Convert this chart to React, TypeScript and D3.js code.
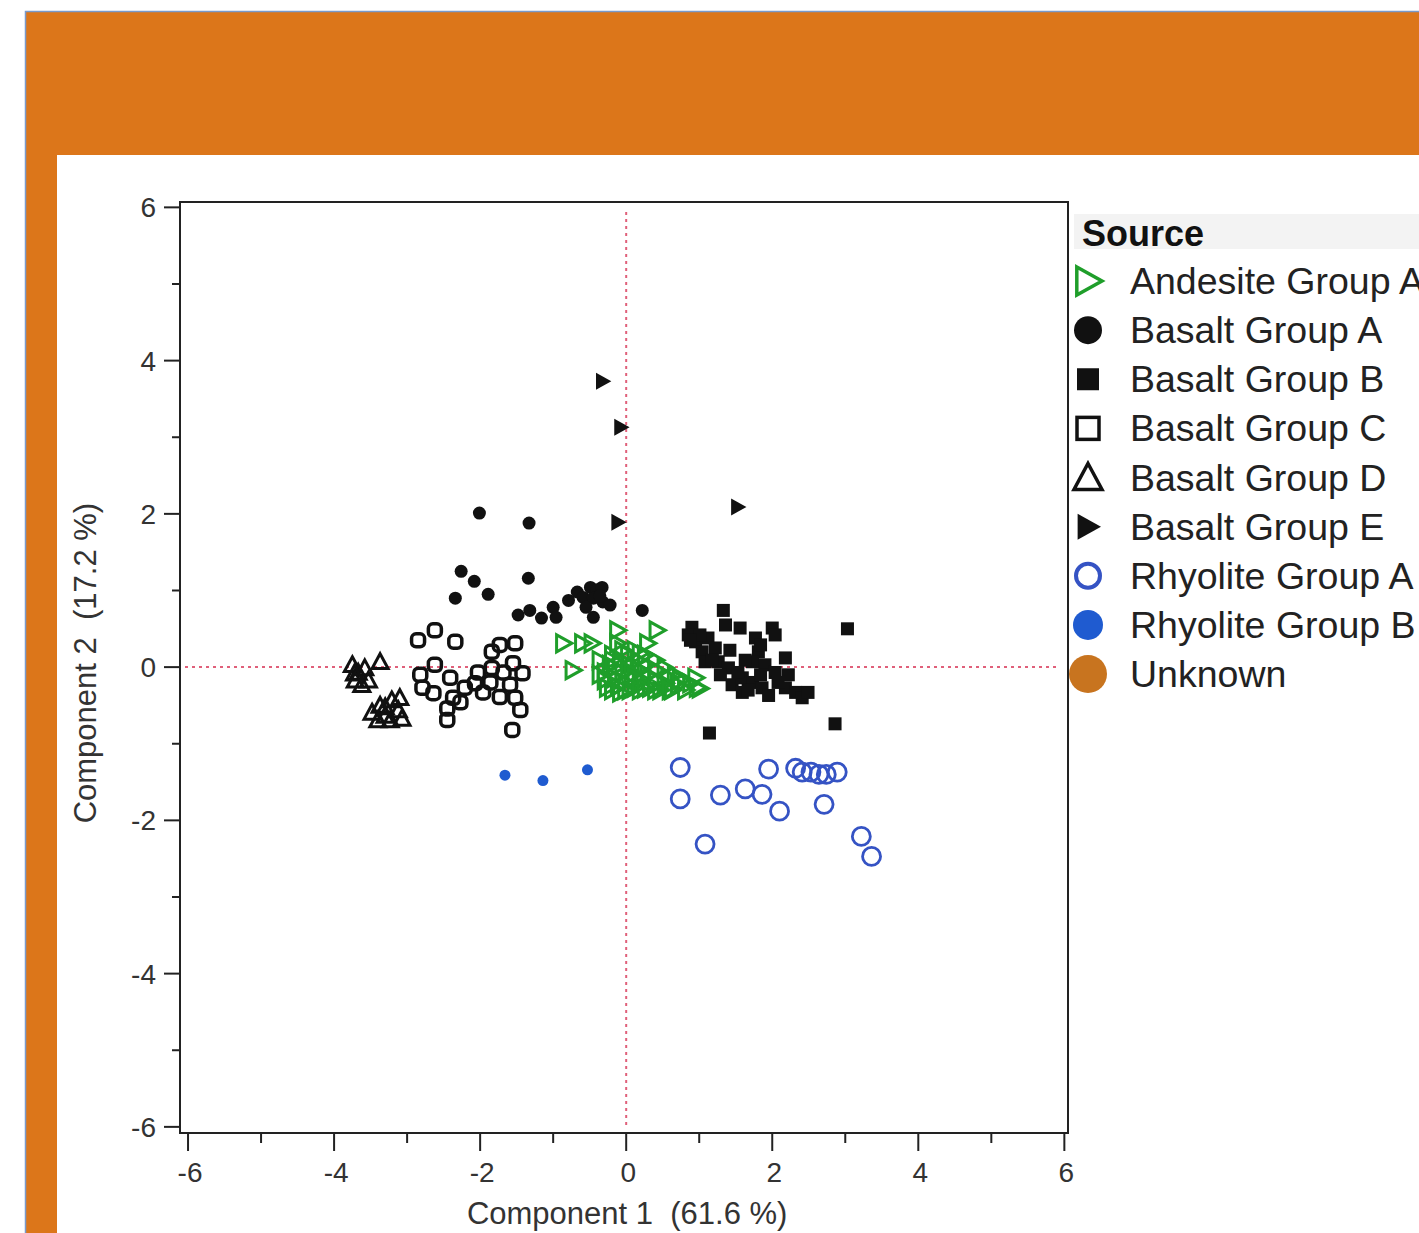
import React, { useRef, useEffect } from 'react';
import * as d3 from 'd3';

type Pt = [number, number];

// PCA scores: [component 1, component 2]
const andesiteA: Pt[] = [
  [-0.86, 0.31], [-0.6, 0.31], [-0.47, 0.31], [-0.73, -0.04], [-0.12, 0.48], [-0.12, 0.31],
  [0.42, 0.48], [0.29, 0.31], [0.19, 0.18], [-0.36, 0.09], [-0.29, -0.07], [-0.22, 0.03],
  [-0.15, -0.14], [-0.08, 0.09], [-0.05, -0.07], [-0.01, -0.2], [0.05, 0.03], [0.08, -0.1],
  [0.12, -0.27], [0.19, -0.04], [0.22, -0.17], [0.3, -0.1], [0.33, -0.27], [0.4, -0.17],
  [0.47, -0.3], [0.53, -0.21], [0.63, -0.3], [0.71, -0.23], [0.81, -0.3], [0.88, -0.21],
  [0.97, -0.27], [-0.19, 0.16], [0.03, 0.16], [-0.11, -0.25], [-0.29, -0.17], [0.16, 0.09],
  [0.42, -0.04], [0.58, -0.13], [0.74, -0.17], [-0.15, -0.01], [0.03, -0.04], [0.26, 0.03],
  [0.12, -0.14], [-0.01, -0.3], [-0.36, -0.1], [-0.26, -0.27], [-0.19, -0.3], [-0.08, -0.33],
  [0.05, -0.3], [0.19, -0.3], [-0.19, 0.09], [-0.05, 0.22], [0.12, 0.22], [0.26, 0.16],
  [0.4, 0.09], [0.53, -0.01], [0.67, -0.1], [0.95, -0.14], [1.01, -0.28], [0.26, -0.28],
  [0.4, -0.3], [0.6, -0.3],
];

const basaltA: Pt[] = [
  [-2.01, 2.01], [-1.33, 1.88], [-2.26, 1.25], [-2.08, 1.12], [-1.89, 0.95], [-2.34, 0.9],
  [-1.34, 1.16], [-1.48, 0.68], [-1.32, 0.74], [-1.16, 0.64], [-1.0, 0.78], [-0.96, 0.65],
  [-0.79, 0.87], [-0.67, 0.98], [-0.59, 0.91], [-0.49, 1.04], [-0.4, 1.01], [-0.33, 1.04],
  [-0.45, 0.9], [-0.32, 0.85], [-0.22, 0.81], [-0.45, 0.65], [0.22, 0.74], [-0.55, 0.78],
  [-0.36, 0.93],
];

const basaltB: Pt[] = [
  [1.33, 0.74], [1.36, 0.55], [1.56, 0.51], [0.9, 0.52], [1.12, 0.38], [0.95, 0.33],
  [1.04, 0.2], [1.22, 0.25], [1.08, 0.07], [1.26, 0.07], [1.77, 0.38], [2.0, 0.51],
  [2.04, 0.42], [1.81, 0.2], [1.73, 0.07], [1.4, -0.01], [1.45, -0.23], [1.59, -0.14],
  [1.73, -0.2], [1.9, 0.03], [2.04, -0.07], [2.18, 0.12], [2.22, -0.1], [2.18, -0.27],
  [1.86, -0.27], [1.95, -0.37], [2.32, -0.33], [2.41, -0.4], [2.49, -0.33], [1.59, -0.33],
  [3.03, 0.5], [2.86, -0.74], [1.14, -0.86], [0.85, 0.42], [1.01, 0.42], [1.42, 0.22],
  [1.63, 0.09], [1.84, -0.1], [1.29, -0.1], [0.88, 0.35], [1.18, 0.09], [1.53, -0.07],
  [1.67, -0.3], [2.08, -0.2], [1.84, 0.29],
];

const basaltC: Pt[] = [
  [-2.85, 0.35], [-2.62, 0.48], [-2.34, 0.33], [-2.82, -0.1], [-2.79, -0.27], [-2.62, 0.03],
  [-2.64, -0.34], [-2.41, -0.14], [-2.37, -0.4], [-2.45, -0.54], [-2.45, -0.69], [-2.21, -0.27],
  [-2.27, -0.46], [-2.03, -0.07], [-1.96, -0.33], [-1.84, 0.2], [-1.73, 0.29], [-1.52, 0.31],
  [-1.84, -0.01], [-1.68, -0.07], [-1.55, 0.05], [-1.42, -0.08], [-1.59, -0.23], [-1.73, -0.39],
  [-1.52, -0.4], [-1.45, -0.56], [-1.56, -0.82], [-1.86, -0.2], [-2.07, -0.21],
];

const basaltD: Pt[] = [
  [-3.75, 0.03], [-3.67, -0.07], [-3.58, -0.01], [-3.71, -0.17], [-3.53, -0.17], [-3.62, -0.23],
  [-3.37, 0.07], [-3.48, -0.59], [-3.37, -0.5], [-3.3, -0.63], [-3.21, -0.43], [-3.12, -0.56],
  [-3.07, -0.67], [-3.4, -0.69], [-3.23, -0.69], [-3.1, -0.4], [-3.72, -0.08], [-3.3, -0.52],
];

const basaltE: Pt[] = [[-0.32, 3.73], [-0.07, 3.13], [-0.11, 1.89], [1.53, 2.09]];

const rhyoliteA: Pt[] = [
  [0.74, -1.31], [0.74, -1.72], [1.08, -2.31], [1.29, -1.67], [1.63, -1.59], [1.86, -1.66],
  [1.95, -1.33], [2.1, -1.88], [2.32, -1.32], [2.41, -1.37], [2.53, -1.37], [2.64, -1.4],
  [2.74, -1.4], [2.89, -1.37], [2.71, -1.79], [3.22, -2.21], [3.36, -2.47],
];

const rhyoliteB: Pt[] = [[-1.66, -1.41], [-1.14, -1.48], [-0.53, -1.34]];

const legendLabels = [
  'Andesite Group A', 'Basalt Group A', 'Basalt Group B', 'Basalt Group C', 'Basalt Group D',
  'Basalt Group E', 'Rhyolite Group A', 'Rhyolite Group B', 'Unknown',
];

const majorTicks = [-6, -4, -2, 0, 2, 4, 6];
const minorTicks = [-5, -3, -1, 1, 3, 5];

const GREEN = '#1f9e2a';
const BLUE_RING = '#3553c4';
const BLUE_DOT = '#1f5bd0';
const ORANGE = '#dc761a';
const FONT = '"Liberation Sans", Arial, sans-serif';

// marker path builders, s = half size
const triRight = (s: number) => `M${-s * 0.8},${-s}L${s},0L${-s * 0.8},${s}Z`;
const triUp = (s: number) => `M0,${-s}L${s},${s * 0.85}L${-s},${s * 0.85}Z`;

export default function App() {
  const svgRef = useRef<SVGSVGElement>(null);

  useEffect(() => {
    const svg = d3.select(svgRef.current);
    svg.selectAll('*').remove();

    const W = 1419, H = 1233;
    const left = 180, right = 1068, top = 202, bottom = 1133;

    const x = d3.scaleLinear().domain([-6.11, 6.05]).range([left, right]);
    const y = d3.scaleLinear().domain([-6.08, 6.07]).range([bottom, top]);

    // slide background
    svg.append('rect').attr('width', W).attr('height', H).attr('fill', '#fff');
    svg.append('rect')
      .attr('x', 25.5).attr('y', 11.5).attr('width', W).attr('height', H)
      .attr('fill', ORANGE).attr('stroke', '#7a9acb').attr('stroke-width', 1.5);
    svg.append('rect')
      .attr('x', 57).attr('y', 155).attr('width', W).attr('height', H).attr('fill', '#fff');

    // reference lines
    svg.append('line')
      .attr('x1', left + 5).attr('x2', right - 8).attr('y1', y(0)).attr('y2', y(0))
      .attr('stroke', '#e0607a').attr('stroke-width', 2).attr('stroke-dasharray', '3,4');
    svg.append('line')
      .attr('x1', x(0)).attr('x2', x(0)).attr('y1', top + 10).attr('y2', bottom - 6)
      .attr('stroke', '#e0607a').attr('stroke-width', 2).attr('stroke-dasharray', '3,4');

    const plot = svg.append('g');

    // Basalt Group D - open triangles
    plot.selectAll('.bd').data(basaltD).join('path')
      .attr('transform', d => `translate(${x(d[0])},${y(d[1])})`)
      .attr('d', triUp(8)).attr('fill', 'none').attr('stroke', '#111').attr('stroke-width', 3);

    // Basalt Group C - open squares
    plot.selectAll('.bc').data(basaltC).join('rect')
      .attr('x', d => x(d[0]) - 6.5).attr('y', d => y(d[1]) - 6.5)
      .attr('width', 13).attr('height', 13).attr('rx', 4.5)
      .attr('fill', 'none').attr('stroke', '#111').attr('stroke-width', 3.5);

    // Basalt Group A - dots
    plot.selectAll('.ba').data(basaltA).join('circle')
      .attr('cx', d => x(d[0])).attr('cy', d => y(d[1])).attr('r', 6.5).attr('fill', '#111');

    // Basalt Group B - squares
    plot.selectAll('.bb').data(basaltB).join('rect')
      .attr('x', d => x(d[0]) - 6.5).attr('y', d => y(d[1]) - 6.5)
      .attr('width', 13).attr('height', 13).attr('fill', '#111');

    // Basalt Group E - filled right triangles
    plot.selectAll('.be').data(basaltE).join('path')
      .attr('transform', d => `translate(${x(d[0])},${y(d[1])})`)
      .attr('d', triRight(8.5)).attr('fill', '#111');

    // Andesite Group A - open green triangles
    plot.selectAll('.aa').data(andesiteA).join('path')
      .attr('transform', d => `translate(${x(d[0])},${y(d[1])})`)
      .attr('d', triRight(8.5)).attr('fill', 'none').attr('stroke', GREEN).attr('stroke-width', 3);

    // Rhyolite A - rings
    plot.selectAll('.ra').data(rhyoliteA).join('circle')
      .attr('cx', d => x(d[0])).attr('cy', d => y(d[1])).attr('r', 9)
      .attr('fill', 'none').attr('stroke', BLUE_RING).attr('stroke-width', 2.8);

    // Rhyolite B - small dots
    plot.selectAll('.rb').data(rhyoliteB).join('circle')
      .attr('cx', d => x(d[0])).attr('cy', d => y(d[1])).attr('r', 5.5).attr('fill', BLUE_DOT);

    // frame
    svg.append('rect')
      .attr('x', left).attr('y', top).attr('width', right - left).attr('height', bottom - top)
      .attr('fill', 'none').attr('stroke', '#222').attr('stroke-width', 2);

    // y axis ticks
    const ya = svg.append('g').attr('stroke', '#222').attr('stroke-width', 2);
    majorTicks.forEach(t => ya.append('line').attr('x1', left - 16).attr('x2', left).attr('y1', y(t)).attr('y2', y(t)));
    minorTicks.forEach(t => ya.append('line').attr('x1', left - 8).attr('x2', left).attr('y1', y(t)).attr('y2', y(t)));
    svg.append('g').selectAll('text').data(majorTicks).join('text')
      .attr('x', left - 24).attr('y', d => y(d) + 10)
      .attr('text-anchor', 'end').attr('font-family', FONT).attr('font-size', 28).attr('fill', '#333')
      .text(d => d);

    // x axis ticks
    const xa = svg.append('g').attr('stroke', '#222').attr('stroke-width', 2);
    majorTicks.forEach(t => xa.append('line').attr('x1', x(t)).attr('x2', x(t)).attr('y1', bottom).attr('y2', bottom + 18));
    minorTicks.forEach(t => xa.append('line').attr('x1', x(t)).attr('x2', x(t)).attr('y1', bottom).attr('y2', bottom + 10));
    svg.append('g').selectAll('text').data(majorTicks).join('text')
      .attr('x', d => x(d) + 2).attr('y', bottom + 49)
      .attr('text-anchor', 'middle').attr('font-family', FONT).attr('font-size', 28).attr('fill', '#333')
      .text(d => d);

    // axis titles
    svg.append('text')
      .attr('x', x(0) + 1).attr('y', 1224).attr('text-anchor', 'middle')
      .attr('font-family', FONT).attr('font-size', 31).attr('fill', '#333')
      .style('white-space', 'pre')
      .text('Component 1  (61.6 %)');
    svg.append('text')
      .attr('transform', `translate(96,${y(0) - 4}) rotate(-90)`).attr('text-anchor', 'middle')
      .attr('font-family', FONT).attr('font-size', 31).attr('fill', '#333')
      .style('white-space', 'pre')
      .text('Component 2  (17.2 %)');

    // legend
    const lg = svg.append('g');
    lg.append('rect').attr('x', 1074).attr('y', 214).attr('width', 400).attr('height', 35).attr('fill', '#f3f3f3');
    lg.append('text').attr('x', 1082).attr('y', 246)
      .attr('font-family', FONT).attr('font-size', 36).attr('font-weight', 'bold').attr('fill', '#111')
      .text('Source');

    const rowY = d3.scaleLinear().domain([0, 8]).range([281, 674]);
    const mx = 1088;
    legendLabels.forEach((label, i) => {
      const cy = rowY(i);
      const g = lg.append('g').attr('transform', `translate(${mx},${cy})`);
      if (i === 0) g.append('path').attr('d', triRight(14)).attr('fill', 'none').attr('stroke', GREEN).attr('stroke-width', 3.5);
      if (i === 1) g.append('circle').attr('r', 14).attr('fill', '#111');
      if (i === 2) g.append('rect').attr('x', -11).attr('y', -11).attr('width', 22).attr('height', 22).attr('fill', '#111');
      if (i === 3) g.append('rect').attr('x', -11).attr('y', -11).attr('width', 22).attr('height', 22).attr('fill', 'none').attr('stroke', '#111').attr('stroke-width', 3.5);
      if (i === 4) g.append('path').attr('d', triUp(14)).attr('fill', 'none').attr('stroke', '#111').attr('stroke-width', 3.5);
      if (i === 5) g.append('path').attr('d', triRight(13)).attr('fill', '#111');
      if (i === 6) g.append('circle').attr('r', 12).attr('fill', 'none').attr('stroke', BLUE_RING).attr('stroke-width', 4);
      if (i === 7) g.append('circle').attr('r', 15).attr('fill', BLUE_DOT);
      if (i === 8) g.append('circle').attr('r', 19).attr('fill', '#c8741f');
      lg.append('text').attr('x', 1130).attr('y', cy + 13)
        .attr('font-family', FONT).attr('font-size', 37.5).attr('fill', '#222')
        .text(label);
    });
  }, []);

  return (
    <div style={{ position: 'absolute', left: 0, top: 0, width: 1419, height: 1233, overflow: 'hidden' }}>
      <svg ref={svgRef} width={1419} height={1233} style={{ display: 'block' }} />
    </div>
  );
}
